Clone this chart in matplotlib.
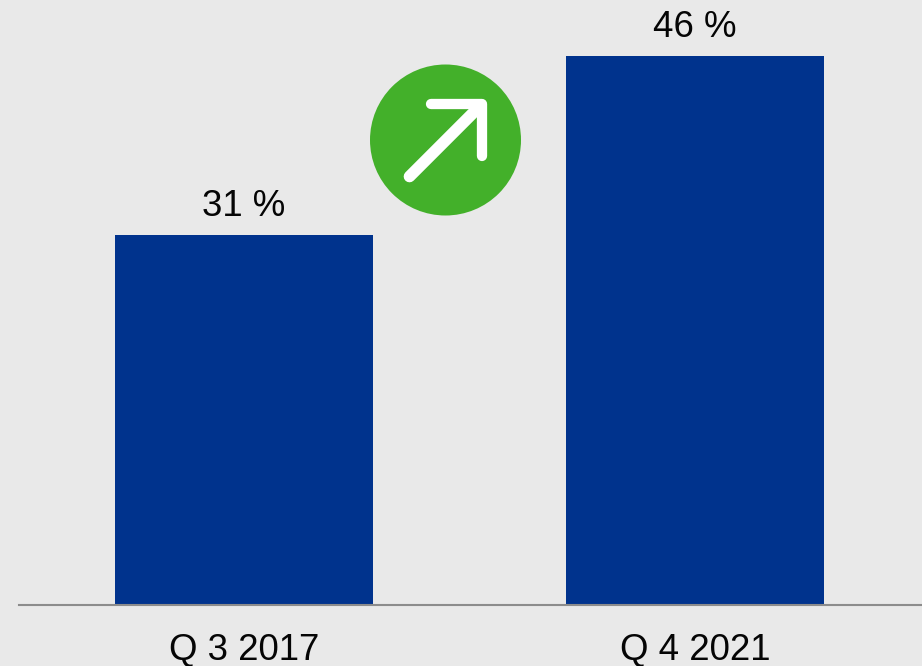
import matplotlib
matplotlib.use('Agg')
import matplotlib.pyplot as plt
from matplotlib.patches import Circle

COLOR_BG = "#E9E9E9"
COLOR_BAR = "#00338D"
COLOR_GREEN = "#43B02A"
COLOR_AXIS = "#8C8C8C"
COLOR_TEXT = "#050505"

quarters = ["Q 3 2017", "Q 4 2021"]
shares = [31, 46]
value_labels = ["31 %", "46 %"]

plt.rcParams['font.family'] = ['Liberation Sans', 'DejaVu Sans']

fig = plt.figure(figsize=(9.22, 6.66), dpi=100, facecolor=COLOR_BG)
W, H = 922, 666

# main bars, baseline at y=604.5 px
ax = fig.add_axes([19 / W, (H - 604.5) / H, (W - 19) / W, 604.5 / H], facecolor=COLOR_BG)
x = range(len(quarters))
ax.bar(x, shares, width=0.572, color=COLOR_BAR)
ax.set_xlim(-0.499, 1.503)
ax.set_ylim(0, 50.7)
ax.set_yticks([])
ax.set_xticks(list(x))
ax.set_xticklabels(quarters, fontsize=26.4, color=COLOR_TEXT)
ax.tick_params(axis='x', length=0, pad=20.2)
for side in ['top', 'left', 'right']:
    ax.spines[side].set_visible(False)
ax.spines['bottom'].set_color(COLOR_AXIS)
ax.spines['bottom'].set_linewidth(1.5)

for i, v in enumerate(shares):
    ax.annotate(value_labels[i], (i, v), xytext=(0, 7.8), textcoords='offset points',
                ha='center', va='bottom', fontsize=26.4, color=COLOR_TEXT, annotation_clip=False)

# green badge with arrow, drawn in pixel coordinates
ov = fig.add_axes([0, 0, 1, 1], facecolor='none')
ov.set_xlim(0, W)
ov.set_ylim(H, 0)
ov.axis('off')
ov.add_patch(Circle((445.5, 140), 75.5, color=COLOR_GREEN, lw=0))
ov.plot([409.5, 481], [176.5, 105], color='white', lw=8.4, solid_capstyle='round')
ov.plot([431, 482, 482], [104, 104, 156], color='white', lw=7.4,
        solid_capstyle='round', solid_joinstyle='round')

fig.savefig('out.png', dpi=100, facecolor=COLOR_BG)
